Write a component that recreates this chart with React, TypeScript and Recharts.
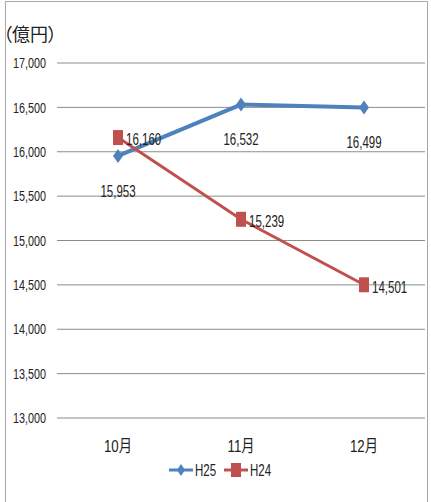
import React from 'react';
import { LineChart, Line, XAxis, YAxis, CartesianGrid, Legend, LabelList } from 'recharts';

const months = ['10月', '11月', '12月'];
const h25 = [15953, 16532, 16499];
const h24 = [16160, 15239, 14501];
const yTicks = [13000, 13500, 14000, 14500, 15000, 15500, 16000, 16500, 17000];

const data = months.map((m, i) => ({ month: m, H25: h25[i], H24: h24[i] }));

const BLUE = '#4f81bd';
const RED = '#c0504d';
const FONT = '"Liberation Sans", "Noto Sans CJK JP", sans-serif';
const SX = 0.72;
const TXT = '#222';

const fmt = (v: any) => Number(v).toLocaleString('en-US');

const CondText = ({ x, y, anchor, children, size = 15, sx = SX }: any) => (
  <text
    transform={`translate(${x},${y}) scale(${sx},1)`}
    textAnchor={anchor}
    dominantBaseline="central"
    fontFamily={FONT}
    fontSize={size}
    fill={TXT}
  >
    {children}
  </text>
);

const YTick = (props: any) => {
  const { x, y, payload } = props;
  return <CondText x={x} y={y} anchor="end">{fmt(payload.value)}</CondText>;
};

const XTick = (props: any) => {
  const { x, y, payload } = props;
  return <CondText x={x} y={y + 10} anchor="middle" size={17} sx={0.78}>{payload.value}</CondText>;
};

const BottomLabel = (props: any) => {
  const { x, y, value } = props;
  return <CondText x={x} y={y + 35} anchor="middle" size={16}>{fmt(value)}</CondText>;
};

const RightLabel = (props: any) => {
  const { x, y, value } = props;
  return <CondText x={x + 8} y={y + 2} anchor="start" size={16}>{fmt(value)}</CondText>;
};

const Diamond = (props: any) => {
  const { cx, cy } = props;
  if (cx == null || cy == null) return null;
  return <path d={`M${cx},${cy - 7} L${cx + 5},${cy} L${cx},${cy + 7} L${cx - 5},${cy} Z`} fill={BLUE} />;
};

const Square = (props: any) => {
  const { cx, cy } = props;
  if (cx == null || cy == null) return null;
  return <rect x={cx - 5} y={cy - 7.5} width={10} height={15} fill={RED} />;
};

const LegendContent = () => (
  <div style={{ display: 'flex', justifyContent: 'center', alignItems: 'center', height: 20, paddingLeft: 16 }}>
    <svg width={104} height={20}>
      <line x1={0} y1={10} x2={24} y2={10} stroke={BLUE} strokeWidth={3} />
      <path d="M12,4 L16,10 L12,16 L8,10 Z" fill={BLUE} />
      <CondText x={26} y={10} anchor="start" size={16}>H25</CondText>
      <line x1={55} y1={10} x2={79} y2={10} stroke={RED} strokeWidth={3} />
      <rect x={62} y={3} width={10} height={14} fill={RED} />
      <CondText x={81} y={10} anchor="start" size={16}>H24</CondText>
    </svg>
  </div>
);

export default function App() {
  return (
    <div style={{ position: 'absolute', left: 0, top: 0, width: 431, height: 502, background: '#fff', overflow: 'hidden' }}>
      <div style={{ position: 'absolute', left: 5, top: 1, width: 421, height: 520, border: '1px solid #a8a8a8' }} />
      <div
        style={{
          position: 'absolute',
          left: 3,
          top: 23,
          fontFamily: '"Noto Sans CJK JP", sans-serif',
          fontSize: 18,
          color: TXT,
          lineHeight: '20px',
          fontFeatureSettings: '"palt"',
          whiteSpace: 'nowrap',
        }}
      >
        （億円）
      </div>
      <LineChart width={431} height={502} data={data} margin={{ top: 63, right: 6, left: 0, bottom: 22 }}>
        <CartesianGrid vertical={false} stroke="#8c8c8c" strokeWidth={1} />
        <XAxis
          dataKey="month"
          axisLine={false}
          tickLine={false}
          padding={{ left: 61, right: 61 }}
          height={42}
          tickMargin={12}
          tick={<XTick />}
          interval={0}
        />
        <YAxis
          domain={[13000, 17000]}
          ticks={yTicks}
          axisLine={false}
          tickLine={false}
          width={57}
          tickMargin={5}
          tick={<YTick />}
          interval={0}
        />
        <Legend verticalAlign="bottom" content={<LegendContent />} />
        <Line dataKey="H25" stroke={BLUE} strokeWidth={4} dot={<Diamond />} activeDot={false} isAnimationActive={false}>
          <LabelList dataKey="H25" content={<BottomLabel />} />
        </Line>
        <Line dataKey="H24" stroke={RED} strokeWidth={3} dot={<Square />} activeDot={false} isAnimationActive={false}>
          <LabelList dataKey="H24" content={<RightLabel />} />
        </Line>
      </LineChart>
    </div>
  );
}
